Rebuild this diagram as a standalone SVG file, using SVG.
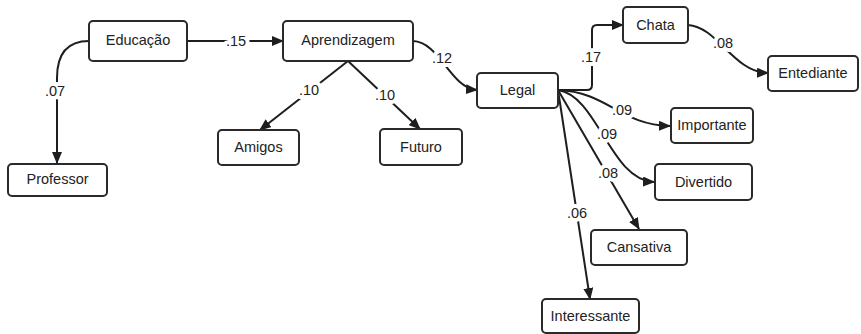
<svg xmlns="http://www.w3.org/2000/svg" width="861" height="334" viewBox="0 0 861 334">
<style>
.box{fill:#fff;stroke:#2a2a2a;stroke-width:2}
.t{font-family:"Liberation Sans",Arial,sans-serif;font-size:14.5px;fill:#222;text-anchor:middle;dominant-baseline:central}
.e{fill:none;stroke:#1e1e1e;stroke-width:2}
.lb{font-family:"Liberation Sans",Arial,sans-serif;font-size:14.5px;fill:#222;text-anchor:middle;dominant-baseline:central;stroke:#fff;stroke-width:8;paint-order:stroke;stroke-linejoin:round}
</style>
<defs>
<marker id="ah" markerWidth="12" markerHeight="10" refX="11" refY="5" orient="auto" markerUnits="userSpaceOnUse">
<path d="M0,0 L12,5 L0,10 z" fill="#1e1e1e"/>
</marker>
</defs>
<rect width="861" height="334" fill="#fff"/>
<g id="connectors">
<path class="e" marker-end="url(#ah)" d="M89,41 C66,41 57,55 57,78 L57,163"/>
<path class="e" marker-end="url(#ah)" d="M187,41 L283,41"/>
<path class="e" marker-end="url(#ah)" d="M348,61 L260,130"/>
<path class="e" marker-end="url(#ah)" d="M348,61 L420,129"/>
<path class="e" marker-end="url(#ah)" d="M413,41 C440,42 450,88 477,90"/>
<path class="e" marker-end="url(#ah)" d="M558,90 L587,90 Q592,90 592,85 L592,30 Q592,25 597,25 L623,25"/>
<path class="e" marker-end="url(#ah)" d="M688,25 C718,27 733,72 768,73"/>
<path class="e" marker-end="url(#ah)" d="M558,90 C608,92 620,125 670,126"/>
<path class="e" marker-end="url(#ah)" d="M558,90 C598,96 610,180 654,182"/>
<path class="e" marker-end="url(#ah)" d="M558,90 L639,229"/>
<path class="e" marker-end="url(#ah)" d="M558,90 L590,299"/>
<text class="lb" x="55" y="91">.07</text>
<text class="lb" x="236" y="41">.15</text>
<text class="lb" x="309" y="90">.10</text>
<text class="lb" x="385" y="95">.10</text>
<text class="lb" x="442" y="58">.12</text>
<text class="lb" x="591" y="57">.17</text>
<text class="lb" x="723" y="43">.08</text>
<text class="lb" x="622" y="110">.09</text>
<text class="lb" x="607" y="134">.09</text>
<text class="lb" x="608" y="173">.08</text>
<text class="lb" x="577" y="213">.06</text>
</g>
<g id="educacao"><rect class="box" x="89" y="21" width="98" height="40" rx="4"/><text class="t" x="138" y="40">Educação</text></g>
<g id="professor"><rect class="box" x="8" y="164" width="99" height="32" rx="4"/><text class="t" x="57.5" y="179">Professor</text></g>
<g id="aprendizagem"><rect class="box" x="283" y="21" width="130" height="40" rx="4"/><text class="t" x="348" y="40">Aprendizagem</text></g>
<g id="amigos"><rect class="box" x="218" y="130" width="81" height="35" rx="4"/><text class="t" x="258.5" y="147">Amigos</text></g>
<g id="futuro"><rect class="box" x="380" y="129" width="82" height="36" rx="4"/><text class="t" x="421" y="147">Futuro</text></g>
<g id="legal"><rect class="box" x="477" y="73" width="81" height="35" rx="4"/><text class="t" x="517.5" y="90">Legal</text></g>
<g id="chata"><rect class="box" x="623" y="7" width="65" height="36" rx="4"/><text class="t" x="655.5" y="25">Chata</text></g>
<g id="entediante"><rect class="box" x="768" y="56" width="90" height="35" rx="4"/><text class="t" x="813" y="73">Entediante</text></g>
<g id="importante"><rect class="box" x="671" y="108" width="82" height="35" rx="4"/><text class="t" x="712" y="125">Importante</text></g>
<g id="divertido"><rect class="box" x="655" y="164" width="97" height="36" rx="4"/><text class="t" x="703.5" y="182">Divertido</text></g>
<g id="cansativa"><rect class="box" x="591" y="230" width="96" height="35" rx="4"/><text class="t" x="639" y="247">Cansativa</text></g>
<g id="interessante"><rect class="box" x="542" y="299" width="97" height="34" rx="4"/><text class="t" x="590.5" y="316">Interessante</text></g>
</svg>
